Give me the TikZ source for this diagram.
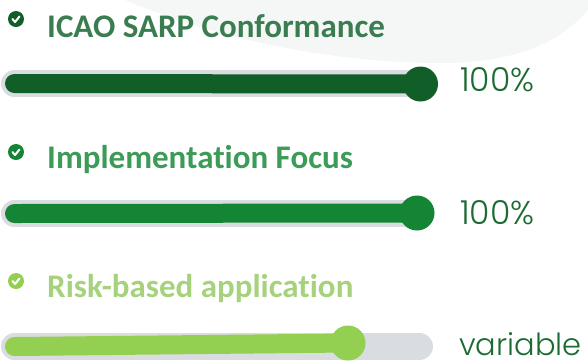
\documentclass[tikz,border=0pt]{standalone}
\usepackage{fontspec}
\setmainfont[Ligatures=NoCommon]{Carlito}
\newfontfamily\pctfont{Poppins Light}
\usepackage{tikz}

\definecolor{bggray}{HTML}{F5F6F6}
\definecolor{trackgray}{HTML}{D9DCE0}
\definecolor{darkgreen}{HTML}{115E28}
\definecolor{darktitle}{HTML}{3A7D50}
\definecolor{midgreen}{HTML}{138535}
\definecolor{midtitle}{HTML}{3D9B58}
\definecolor{lightgreen}{HTML}{93CF50}
\definecolor{lighttitle}{HTML}{A6D27D}
\definecolor{pctgreen}{HTML}{1B6B32}

\begin{document}
\begin{tikzpicture}[x=1pt, y=-1pt,
    track/.style = {line width=27pt, line cap=round, draw=trackgray},
    fillbar/.style = {line width=19pt, line cap=round},
    knob/.style = {circle, minimum size=35pt, inner sep=0pt},
    tick/.style = {circle, minimum size=16pt, inner sep=0pt},
    checkmark/.style = {white, line width=2pt, line cap=round, line join=round},
    title/.style = {anchor=base west, inner sep=0pt, font=\fontsize{33}{33}\selectfont\bfseries},
    pct/.style = {anchor=base west, inner sep=0pt, text=pctgreen, font=\fontsize{33}{33}\selectfont\pctfont}]

                \useasboundingbox (0,0) rectangle (588,360);

                % Background swoosh
                \fill[bggray] (125,0) .. controls (230,45) and (350,63) .. (440,63)
                    .. controls (520,63) and (565,40) .. (592,5) -- (592,0) -- cycle;

                % Row 1 - ICAO SARP Conformance
                \node[tick, fill=darkgreen] (c1) at (16,19) {};
                \draw[checkmark] ([shift={(-3.5,0)}]c1.center) -- ([shift={(-1,3)}]c1.center) -- ([shift={(3.5,-2.5)}]c1.center);
                \node[title, text=darktitle] (t1) at (47,37) {ICAO SARP Conformance};
                \coordinate (s1) at (14.5,83.5);
                \coordinate (e1) at (419.5,83.5);
                \draw[track] (s1) -- (e1);
                \node[knob, fill=darkgreen] (k1) at (420.5,84) {};
                \draw[fillbar, darkgreen] (s1) -- (k1.center);
                \node[pct] (p1) at (460,91) {100\%};

                % Row 2 - Implementation Focus
                \node[tick, fill=midgreen] (c2) at (16,152) {};
                \draw[checkmark] ([shift={(-3.5,0)}]c2.center) -- ([shift={(-1,3)}]c2.center) -- ([shift={(3.5,-2.5)}]c2.center);
                \node[title, text=midtitle] (t2) at (47,168) {Implementation Focus};
                \coordinate (s2) at (14.5,213.5);
                \coordinate (e2) at (419.5,213.5);
                \draw[track] (s2) -- (e2);
                \node[knob, fill=midgreen] (k2) at (417,213) {};
                \draw[fillbar, midgreen] (s2) -- (k2.center);
                \node[pct] (p2) at (460,224) {100\%};

                % Row 3 - Risk-based application
                \node[tick, fill=lightgreen] (c3) at (16,281) {};
                \draw[checkmark] ([shift={(-3.5,0)}]c3.center) -- ([shift={(-1,3)}]c3.center) -- ([shift={(3.5,-2.5)}]c3.center);
                \node[title, text=lighttitle] (t3) at (47,297) {Risk-based application};
                \coordinate (s3) at (14.5,346.5);
                \coordinate (e3) at (419.5,346.5);
                \draw[track] (s3) -- (e3);
                \node[knob, fill=lightgreen] (k3) at (348,343) {};
                \draw[fillbar, lightgreen] (s3) -- (k3.center);
                \node[pct, font=\fontsize{30.5}{30.5}\selectfont\pctfont] (p3) at (459,355) {variable};
\end{tikzpicture}
\end{document}
